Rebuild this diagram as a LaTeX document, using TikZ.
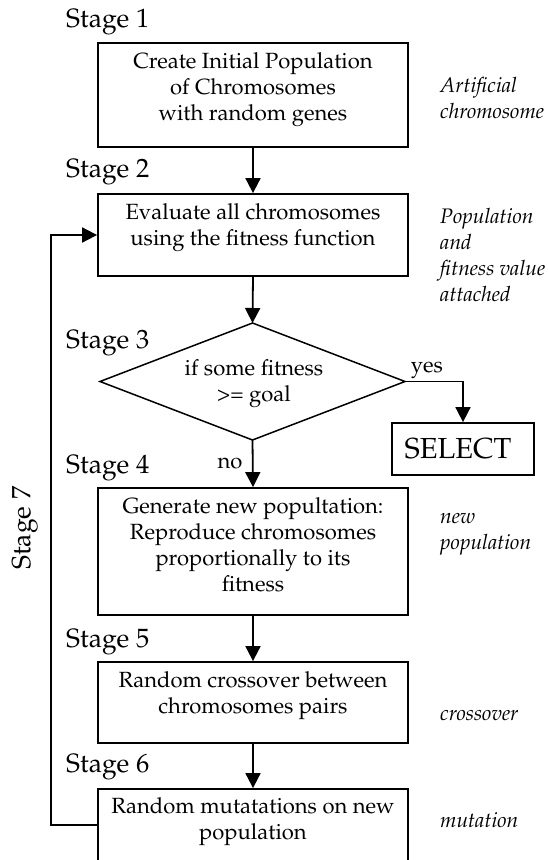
\documentclass[tikz,border=0pt]{standalone}
\usepackage[T1]{fontenc}
\usepackage{mathpazo}
\usetikzlibrary{shapes.geometric,arrows.meta}
\begin{document}
\begin{tikzpicture}[x=1pt,y=-1pt,
  boxnode/.style={draw,line width=1.8pt,minimum width=310pt,inner sep=0pt},
  boxtext/.style={align=center,anchor=north,inner sep=0pt,font=\fontsize{22}{26}\selectfont},
  stagelbl/.style={anchor=west,inner sep=0pt,font=\fontsize{26.5}{30}\selectfont},
  sidelbl/.style={anchor=west,align=left,inner sep=0pt,font=\fontsize{21}{26}\selectfont\itshape},
  small/.style={inner sep=0pt,font=\fontsize{22}{26}\selectfont},
  conn/.style={line width=1.8pt,-{Triangle[length=15pt,width=15pt]}},
  plain/.style={line width=1.8pt}
]
\useasboundingbox (0,0) rectangle (547,860);

% boxes
\node[boxnode,minimum height=104pt] (b1) at (253,95) {};
\node[boxnode,minimum height=82pt] (b2) at (253,235) {};
\node[draw,diamond,line width=1.5pt,minimum width=305pt,minimum height=117pt,inner sep=0pt,outer sep=0pt] (d3) at (252.5,381.5) {};
\node[boxnode,minimum width=142pt,minimum height=52pt] (sel) at (463,449) {};
\node[boxnode,minimum height=127pt] (b4) at (253,551.5) {};
\node[boxnode,minimum height=81pt] (b5) at (253,702.5) {};
\node[boxnode,minimum height=72pt] (b6) at (253,825) {};

% box texts
\node[boxtext] (t1) at (253,52) {Create Initial Population\\of Chromosomes\\with random genes};
\node[boxtext] (t2) at (253,203) {Evaluate all chromosomes\\using the fitness function};
\node[small,align=center] (t3) at (254,383.5) {if some fitness\\>= goal};
\node[inner sep=0pt,font=\fontsize{29}{32}\selectfont] (tsel) at (458,449) {SELECT};
\node[boxtext] (t4) at (253,497) {Generate new popultation:\\Reproduce chromosomes\\proportionally to its\\fitness};
\node[boxtext] (t5) at (253,671) {Random crossover between\\chromosomes pairs};
\node[boxtext] (t6) at (253,797) {Random mutatations on new\\population};

% stage labels
\node[stagelbl] (s1) at (66,22) {Stage 1};
\node[stagelbl] (s2) at (66,172) {Stage 2};
\node[stagelbl] (s3) at (66,343) {Stage 3};
\node[stagelbl] (s4) at (66,468) {Stage 4};
\node[stagelbl] (s5) at (66,642) {Stage 5};
\node[stagelbl] (s6) at (66,767) {Stage 6};
\node[inner sep=0pt,font=\fontsize{26.5}{30}\selectfont,rotate=90] (s7) at (25,528) {Stage 7};

% side labels
\node[sidelbl] (l1) at (440,98) {Artificial\\chromosome};
\node[sidelbl] (l2) at (440,255) {Population\\and\\fitness value\\attached};
\node[sidelbl] (l4) at (440,534) {new\\population};
\node[sidelbl] (l5) at (440,715) {crossover};
\node[sidelbl] (l6) at (440,820) {mutation};

% yes / no
\node[small] (yes) at (427,370) {yes};
\node[small] (no) at (230,463) {no};

% connectors
\draw[conn] (b1.south) -- (b2.north);
\draw[conn] (b2.south) -- (d3.north);
\draw[conn] (d3.south) -- (b4.north);
\draw[conn] (d3.east) -| (sel.north);
\draw[conn] (b4.south) -- (b5.north);
\draw[conn] (b5.south) -- (b6.north);
\coordinate (lb) at (51,825);
\draw[conn] (b6.west) -- (lb) |- (b2.west);
\end{tikzpicture}
\end{document}
